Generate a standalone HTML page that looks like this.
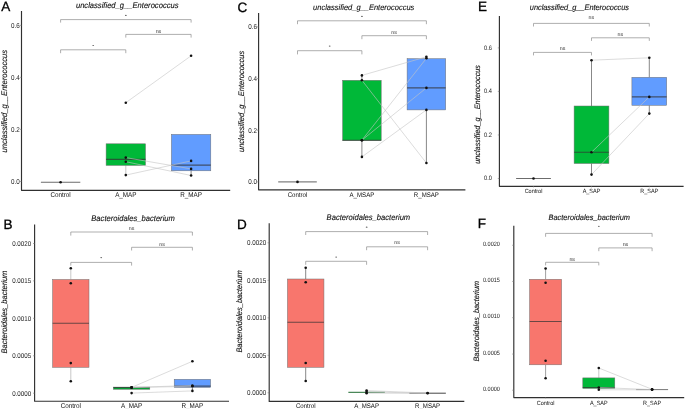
<!DOCTYPE html>
<html><head><meta charset="utf-8"><style>
html,body{margin:0;padding:0;background:#fff;}
svg{display:block;font-family:"Liberation Sans", sans-serif;will-change:transform;} text{text-rendering:geometricPrecision;}
</style></head><body>
<svg width="685" height="409" viewBox="0 0 685 409">
<rect width="685" height="409" fill="#fff"/>
<path d="M21.5 11V190.3H230.2" fill="none" stroke="#303030" stroke-width="1.15" stroke-linejoin="round"/>
<line x1="19.9" y1="181.5" x2="21.5" y2="181.5" stroke="#777" stroke-width="0.6"/>
<text transform="translate(19.8 184.05) scale(0.8929 1)" font-size="7.056" text-anchor="end" fill="#222">0.0</text>
<line x1="19.9" y1="129.4" x2="21.5" y2="129.4" stroke="#777" stroke-width="0.6"/>
<text transform="translate(19.8 131.95) scale(0.8929 1)" font-size="7.056" text-anchor="end" fill="#222">0.2</text>
<line x1="19.9" y1="77.35" x2="21.5" y2="77.35" stroke="#777" stroke-width="0.6"/>
<text transform="translate(19.8 79.9) scale(0.8929 1)" font-size="7.056" text-anchor="end" fill="#222">0.4</text>
<line x1="19.9" y1="25.35" x2="21.5" y2="25.35" stroke="#777" stroke-width="0.6"/>
<text transform="translate(19.8 27.9) scale(0.8929 1)" font-size="7.056" text-anchor="end" fill="#222">0.6</text>
<line x1="60.6" y1="190.3" x2="60.6" y2="191.7" stroke="#aaa" stroke-width="0.5"/>
<text transform="translate(60.6 196.8) scale(0.9091 1)" font-size="6.93" text-anchor="middle" fill="#111">Control</text>
<line x1="125.8" y1="190.3" x2="125.8" y2="191.7" stroke="#aaa" stroke-width="0.5"/>
<text transform="translate(125.8 196.8) scale(0.9091 1)" font-size="6.93" text-anchor="middle" fill="#111">A_MAP</text>
<line x1="191.1" y1="190.3" x2="191.1" y2="191.7" stroke="#aaa" stroke-width="0.5"/>
<text transform="translate(191.1 196.8) scale(0.9091 1)" font-size="6.93" text-anchor="middle" fill="#111">R_MAP</text>
<line x1="40.9" y1="182.2" x2="80.3" y2="182.2" stroke="#333" stroke-opacity="0.72" stroke-width="1.15"/>
<line x1="125.8" y1="165.4" x2="125.8" y2="175.1" stroke="#b0b0b0" stroke-width="0.7"/>
<rect x="106.1" y="143.8" width="39.4" height="21.6" fill="#00B838" stroke="#6f6f6f" stroke-width="0.5"/>
<line x1="106.1" y1="159.4" x2="145.5" y2="159.4" stroke="#333" stroke-opacity="0.72" stroke-width="1.15"/>
<line x1="191.1" y1="170.8" x2="191.1" y2="175.5" stroke="#555" stroke-width="0.7"/>
<rect x="171.4" y="134.4" width="39.4" height="36.4" fill="#619CFF" stroke="#6f6f6f" stroke-width="0.5"/>
<line x1="171.4" y1="165.1" x2="210.8" y2="165.1" stroke="#333" stroke-opacity="0.72" stroke-width="1.15"/>
<line x1="125.8" y1="102.7" x2="191.1" y2="55.8" stroke="#c4c4c4" stroke-width="0.6"/>
<line x1="125.8" y1="157.6" x2="191.1" y2="168.9" stroke="#c4c4c4" stroke-width="0.6"/>
<line x1="125.8" y1="161.7" x2="191.1" y2="175.5" stroke="#c4c4c4" stroke-width="0.6"/>
<line x1="125.8" y1="175.1" x2="191.1" y2="160.9" stroke="#c4c4c4" stroke-width="0.6"/>
<circle cx="60.6" cy="182.2" r="1.3" fill="#111"/>
<circle cx="125.8" cy="102.7" r="1.3" fill="#111"/>
<circle cx="125.8" cy="157.6" r="1.3" fill="#111"/>
<circle cx="125.8" cy="161.7" r="1.3" fill="#111"/>
<circle cx="125.8" cy="175.1" r="1.3" fill="#111"/>
<circle cx="191.1" cy="55.8" r="1.3" fill="#111"/>
<circle cx="191.1" cy="160.9" r="1.3" fill="#111"/>
<circle cx="191.1" cy="168.9" r="1.3" fill="#111"/>
<circle cx="191.1" cy="175.5" r="1.3" fill="#111"/>
<path d="M60.6 22.6V19.6H191.1V22.6" fill="none" stroke="#8c8c8c" stroke-width="0.7"/>
<ellipse cx="125.85" cy="15.4" rx="0.9" ry="0.6" fill="#666"/>
<path d="M125.8 37.6V34.4H191.1V37.6" fill="none" stroke="#8c8c8c" stroke-width="0.7"/>
<text x="158.45" y="32.8" font-size="5.3" text-anchor="middle" fill="#333">ns</text>
<path d="M60.6 53.2V49.8H125.8V53.2" fill="none" stroke="#8c8c8c" stroke-width="0.7"/>
<ellipse cx="93.2" cy="45.5" rx="0.9" ry="0.6" fill="#666"/>
<text transform="translate(127.2 7.9) scale(0.9346 1)" font-size="8.132" font-style="italic" text-anchor="middle" fill="#111" stroke="#111" stroke-width="0.12">unclassified_g__Enterococcus</text>
<text transform="translate(7 101.2) rotate(-90) scale(0.9346 1)" font-size="8.132" font-style="italic" text-anchor="middle" fill="#111" stroke="#111" stroke-width="0.12">unclassified_g__Enterococcus</text>
<text x="1.2" y="10.9" font-size="13.5" fill="#000" stroke="#000" stroke-width="0.3">A</text>
<path d="M258.6 13V189.8H465.4" fill="none" stroke="#303030" stroke-width="1.15" stroke-linejoin="round"/>
<line x1="257" y1="181.9" x2="258.6" y2="181.9" stroke="#777" stroke-width="0.6"/>
<text transform="translate(257 184.45) scale(0.8929 1)" font-size="7.056" text-anchor="end" fill="#222">0.0</text>
<line x1="257" y1="130.2" x2="258.6" y2="130.2" stroke="#777" stroke-width="0.6"/>
<text transform="translate(257 132.75) scale(0.8929 1)" font-size="7.056" text-anchor="end" fill="#222">0.2</text>
<line x1="257" y1="78.6" x2="258.6" y2="78.6" stroke="#777" stroke-width="0.6"/>
<text transform="translate(257 81.15) scale(0.8929 1)" font-size="7.056" text-anchor="end" fill="#222">0.4</text>
<line x1="257" y1="26.9" x2="258.6" y2="26.9" stroke="#777" stroke-width="0.6"/>
<text transform="translate(257 29.45) scale(0.8929 1)" font-size="7.056" text-anchor="end" fill="#222">0.6</text>
<line x1="297.5" y1="189.8" x2="297.5" y2="191.2" stroke="#aaa" stroke-width="0.5"/>
<text transform="translate(297.5 196.6) scale(0.9091 1)" font-size="6.71" text-anchor="middle" fill="#111">Control</text>
<line x1="361.9" y1="189.8" x2="361.9" y2="191.2" stroke="#aaa" stroke-width="0.5"/>
<text transform="translate(361.9 196.6) scale(0.9091 1)" font-size="6.71" text-anchor="middle" fill="#111">A_MSAP</text>
<line x1="426.4" y1="189.8" x2="426.4" y2="191.2" stroke="#aaa" stroke-width="0.5"/>
<text transform="translate(426.4 196.6) scale(0.9091 1)" font-size="6.71" text-anchor="middle" fill="#111">R_MSAP</text>
<line x1="278.2" y1="181.9" x2="316.8" y2="181.9" stroke="#808080" stroke-opacity="1" stroke-width="1.4"/>
<line x1="361.9" y1="140.5" x2="361.9" y2="156.9" stroke="#555555" stroke-width="0.7"/>
<line x1="361.9" y1="80.3" x2="361.9" y2="75.4" stroke="#555555" stroke-width="0.7"/>
<rect x="342.6" y="80.3" width="38.6" height="60.2" fill="#00B838" stroke="#6f6f6f" stroke-width="0.5"/>
<line x1="342.6" y1="140.2" x2="381.2" y2="140.2" stroke="#333" stroke-opacity="0.72" stroke-width="1.15"/>
<line x1="426.4" y1="109.9" x2="426.4" y2="163" stroke="#555555" stroke-width="0.7"/>
<line x1="426.4" y1="58.7" x2="426.4" y2="56.8" stroke="#555555" stroke-width="0.7"/>
<rect x="407.1" y="58.7" width="38.6" height="51.2" fill="#619CFF" stroke="#6f6f6f" stroke-width="0.5"/>
<line x1="407.1" y1="87.9" x2="445.7" y2="87.9" stroke="#333" stroke-opacity="0.72" stroke-width="1.15"/>
<line x1="361.9" y1="75.4" x2="426.4" y2="56.8" stroke="#c4c4c4" stroke-width="0.6"/>
<line x1="361.9" y1="80.3" x2="426.4" y2="163" stroke="#c4c4c4" stroke-width="0.6"/>
<line x1="361.9" y1="140.2" x2="426.4" y2="58.3" stroke="#c4c4c4" stroke-width="0.6"/>
<line x1="361.9" y1="140.2" x2="426.4" y2="87.9" stroke="#c4c4c4" stroke-width="0.6"/>
<line x1="361.9" y1="156.9" x2="426.4" y2="109.9" stroke="#c4c4c4" stroke-width="0.6"/>
<circle cx="297.5" cy="181.9" r="1.3" fill="#111"/>
<circle cx="361.9" cy="75.4" r="1.3" fill="#111"/>
<circle cx="361.9" cy="80.3" r="1.3" fill="#111"/>
<circle cx="361.9" cy="140.2" r="1.3" fill="#111"/>
<circle cx="361.9" cy="140.2" r="1.3" fill="#111"/>
<circle cx="361.9" cy="156.9" r="1.3" fill="#111"/>
<circle cx="426.4" cy="56.8" r="1.3" fill="#111"/>
<circle cx="426.4" cy="58.3" r="1.3" fill="#111"/>
<circle cx="426.4" cy="87.9" r="1.3" fill="#111"/>
<circle cx="426.4" cy="109.9" r="1.3" fill="#111"/>
<circle cx="426.4" cy="163" r="1.3" fill="#111"/>
<path d="M297.5 24.2V20.8H426.4V24.2" fill="none" stroke="#8c8c8c" stroke-width="0.7"/>
<ellipse cx="361.95" cy="16.4" rx="0.9" ry="0.6" fill="#666"/>
<path d="M361.9 39.2V35.7H426.4V39.2" fill="none" stroke="#8c8c8c" stroke-width="0.7"/>
<text x="394.15" y="34" font-size="5.3" text-anchor="middle" fill="#333">ns</text>
<path d="M297.5 54.4V50.7H361.9V54.4" fill="none" stroke="#8c8c8c" stroke-width="0.7"/>
<ellipse cx="329.7" cy="46.1" rx="0.9" ry="0.6" fill="#666"/>
<text transform="translate(363.7 9.7) scale(0.9346 1)" font-size="8.025" font-style="italic" text-anchor="middle" fill="#111" stroke="#111" stroke-width="0.12">unclassified_g__Enterococcus</text>
<text transform="translate(244.4 101.4) rotate(-90) scale(0.9346 1)" font-size="8.025" font-style="italic" text-anchor="middle" fill="#111" stroke="#111" stroke-width="0.12">unclassified_g__Enterococcus</text>
<text x="237.6" y="11.6" font-size="13.5" fill="#000" stroke="#000" stroke-width="0.3">C</text>
<path d="M499.4 15.9V186.3H683.6" fill="none" stroke="#303030" stroke-width="1.15" stroke-linejoin="round"/>
<line x1="497.8" y1="178.5" x2="499.4" y2="178.5" stroke="#777" stroke-width="0.6"/>
<text transform="translate(491.9 180.15) scale(0.8929 1)" font-size="6.384" text-anchor="end" fill="#222">0.0</text>
<line x1="497.8" y1="134.97" x2="499.4" y2="134.97" stroke="#777" stroke-width="0.6"/>
<text transform="translate(491.9 136.62) scale(0.8929 1)" font-size="6.384" text-anchor="end" fill="#222">0.2</text>
<line x1="497.8" y1="91.43" x2="499.4" y2="91.43" stroke="#777" stroke-width="0.6"/>
<text transform="translate(491.9 93.08) scale(0.8929 1)" font-size="6.384" text-anchor="end" fill="#222">0.4</text>
<line x1="497.8" y1="47.9" x2="499.4" y2="47.9" stroke="#777" stroke-width="0.6"/>
<text transform="translate(491.9 49.55) scale(0.8929 1)" font-size="6.384" text-anchor="end" fill="#222">0.6</text>
<line x1="533.5" y1="186.3" x2="533.5" y2="187.7" stroke="#aaa" stroke-width="0.5"/>
<text transform="translate(533.5 193) scale(0.9091 1)" font-size="6.05" text-anchor="middle" fill="#111">Control</text>
<line x1="591.5" y1="186.3" x2="591.5" y2="187.7" stroke="#aaa" stroke-width="0.5"/>
<text transform="translate(591.5 193) scale(0.9091 1)" font-size="6.05" text-anchor="middle" fill="#111">A_SAP</text>
<line x1="649.3" y1="186.3" x2="649.3" y2="187.7" stroke="#aaa" stroke-width="0.5"/>
<text transform="translate(649.3 193) scale(0.9091 1)" font-size="6.05" text-anchor="middle" fill="#111">R_SAP</text>
<line x1="516.1" y1="178.5" x2="550.9" y2="178.5" stroke="#333" stroke-opacity="0.72" stroke-width="1.15"/>
<line x1="591.5" y1="163.5" x2="591.5" y2="174.6" stroke="#555555" stroke-width="0.7"/>
<line x1="591.5" y1="106" x2="591.5" y2="60.2" stroke="#555555" stroke-width="0.7"/>
<rect x="574.1" y="106" width="34.8" height="57.5" fill="#00B838" stroke="#6f6f6f" stroke-width="0.5"/>
<line x1="574.1" y1="152.2" x2="608.9" y2="152.2" stroke="#333" stroke-opacity="0.72" stroke-width="1.15"/>
<line x1="649.3" y1="105.3" x2="649.3" y2="113.6" stroke="#555555" stroke-width="0.7"/>
<line x1="649.3" y1="77.3" x2="649.3" y2="57.8" stroke="#555555" stroke-width="0.7"/>
<rect x="631.9" y="77.3" width="34.8" height="28" fill="#619CFF" stroke="#6f6f6f" stroke-width="0.5"/>
<line x1="631.9" y1="96.9" x2="666.7" y2="96.9" stroke="#333" stroke-opacity="0.72" stroke-width="1.15"/>
<line x1="591.5" y1="60.2" x2="649.3" y2="57.8" stroke="#c4c4c4" stroke-width="0.6"/>
<line x1="591.5" y1="152.2" x2="649.3" y2="96.9" stroke="#c4c4c4" stroke-width="0.6"/>
<line x1="591.5" y1="174.6" x2="649.3" y2="113.6" stroke="#c4c4c4" stroke-width="0.6"/>
<circle cx="533.5" cy="178.5" r="1.3" fill="#111"/>
<circle cx="591.5" cy="60.2" r="1.3" fill="#111"/>
<circle cx="591.5" cy="152.2" r="1.3" fill="#111"/>
<circle cx="591.5" cy="174.6" r="1.3" fill="#111"/>
<circle cx="649.3" cy="57.8" r="1.3" fill="#111"/>
<circle cx="649.3" cy="96.9" r="1.3" fill="#111"/>
<circle cx="649.3" cy="113.6" r="1.3" fill="#111"/>
<path d="M533.5 26.5V23.4H649.3V26.5" fill="none" stroke="#8c8c8c" stroke-width="0.7"/>
<text x="591.4" y="19.1" font-size="5.3" text-anchor="middle" fill="#333">ns</text>
<path d="M591.5 40.9V37.8H649.3V40.9" fill="none" stroke="#8c8c8c" stroke-width="0.7"/>
<text x="620.4" y="35.7" font-size="5.3" text-anchor="middle" fill="#333">ns</text>
<path d="M533.5 55.4V52.4H591.5V55.4" fill="none" stroke="#8c8c8c" stroke-width="0.7"/>
<text x="562.5" y="50.3" font-size="5.3" text-anchor="middle" fill="#333">ns</text>
<text transform="translate(579.4 10.1) scale(0.9346 1)" font-size="7.8645" font-style="italic" text-anchor="middle" fill="#111" stroke="#111" stroke-width="0.12">unclassified_g__Enterococcus</text>
<text transform="translate(480.3 114.4) rotate(-90) scale(0.9346 1)" font-size="7.8324" font-style="italic" text-anchor="middle" fill="#111" stroke="#111" stroke-width="0.12">unclassified_g__Enterococcus</text>
<text x="478" y="11.2" font-size="13.5" fill="#000" stroke="#000" stroke-width="0.3">E</text>
<path d="M34.6 224.5V401.2H229" fill="none" stroke="#303030" stroke-width="1.15" stroke-linejoin="round"/>
<line x1="33" y1="393.2" x2="34.6" y2="393.2" stroke="#777" stroke-width="0.6"/>
<text transform="translate(31.1 395.75) scale(0.8929 1)" font-size="6.944" text-anchor="end" fill="#222">0.0000</text>
<line x1="33" y1="355.8" x2="34.6" y2="355.8" stroke="#777" stroke-width="0.6"/>
<text transform="translate(31.1 358.35) scale(0.8929 1)" font-size="6.944" text-anchor="end" fill="#222">0.0005</text>
<line x1="33" y1="318.3" x2="34.6" y2="318.3" stroke="#777" stroke-width="0.6"/>
<text transform="translate(31.1 320.85) scale(0.8929 1)" font-size="6.944" text-anchor="end" fill="#222">0.0010</text>
<line x1="33" y1="280.9" x2="34.6" y2="280.9" stroke="#777" stroke-width="0.6"/>
<text transform="translate(31.1 283.45) scale(0.8929 1)" font-size="6.944" text-anchor="end" fill="#222">0.0015</text>
<line x1="33" y1="243.5" x2="34.6" y2="243.5" stroke="#777" stroke-width="0.6"/>
<text transform="translate(31.1 246.05) scale(0.8929 1)" font-size="6.944" text-anchor="end" fill="#222">0.0020</text>
<line x1="70.8" y1="401.2" x2="70.8" y2="402.6" stroke="#aaa" stroke-width="0.5"/>
<text transform="translate(70.8 408) scale(0.9091 1)" font-size="6.93" text-anchor="middle" fill="#111">Control</text>
<line x1="131.6" y1="401.2" x2="131.6" y2="402.6" stroke="#aaa" stroke-width="0.5"/>
<text transform="translate(131.6 408) scale(0.9091 1)" font-size="6.93" text-anchor="middle" fill="#111">A_MAP</text>
<line x1="192.4" y1="401.2" x2="192.4" y2="402.6" stroke="#aaa" stroke-width="0.5"/>
<text transform="translate(192.4 408) scale(0.9091 1)" font-size="6.93" text-anchor="middle" fill="#111">R_MAP</text>
<line x1="70.8" y1="367.3" x2="70.8" y2="381.2" stroke="#b0b0b0" stroke-width="0.7"/>
<line x1="70.8" y1="279.5" x2="70.8" y2="268.3" stroke="#b0b0b0" stroke-width="0.7"/>
<rect x="52.6" y="279.5" width="36.4" height="87.8" fill="#F8766D" stroke="#6f6f6f" stroke-width="0.5"/>
<line x1="52.6" y1="323.2" x2="89" y2="323.2" stroke="#333" stroke-opacity="0.72" stroke-width="1.15"/>
<rect x="113.4" y="387.1" width="36.4" height="2.2" fill="#00B838" stroke="#6f6f6f" stroke-width="0.5"/>
<line x1="113.4" y1="387.6" x2="149.8" y2="387.6" stroke="#333" stroke-opacity="0.72" stroke-width="1.15"/>
<line x1="192.4" y1="387.4" x2="192.4" y2="390.9" stroke="#555" stroke-width="0.7"/>
<rect x="174.2" y="379.3" width="36.4" height="8.1" fill="#619CFF" stroke="#6f6f6f" stroke-width="0.5"/>
<line x1="174.2" y1="386.1" x2="210.6" y2="386.1" stroke="#333" stroke-opacity="0.72" stroke-width="1.15"/>
<line x1="131.6" y1="387.4" x2="192.4" y2="361.3" stroke="#c4c4c4" stroke-width="0.6"/>
<line x1="131.6" y1="387.4" x2="192.4" y2="385.5" stroke="#c4c4c4" stroke-width="0.6"/>
<line x1="131.6" y1="387.6" x2="192.4" y2="386.3" stroke="#c4c4c4" stroke-width="0.6"/>
<line x1="131.6" y1="393.1" x2="192.4" y2="390.9" stroke="#c4c4c4" stroke-width="0.6"/>
<circle cx="70.8" cy="268.3" r="1.3" fill="#111"/>
<circle cx="70.8" cy="283.2" r="1.3" fill="#111"/>
<circle cx="70.8" cy="363.1" r="1.3" fill="#111"/>
<circle cx="70.8" cy="381.2" r="1.3" fill="#111"/>
<circle cx="131.6" cy="387.4" r="1.3" fill="#111"/>
<circle cx="131.6" cy="387.4" r="1.3" fill="#111"/>
<circle cx="131.6" cy="387.6" r="1.3" fill="#111"/>
<circle cx="131.6" cy="393.1" r="1.3" fill="#111"/>
<circle cx="192.4" cy="361.3" r="1.3" fill="#111"/>
<circle cx="192.4" cy="385.5" r="1.3" fill="#111"/>
<circle cx="192.4" cy="386.3" r="1.3" fill="#111"/>
<circle cx="192.4" cy="390.9" r="1.3" fill="#111"/>
<path d="M70.8 235.6V232H192.4V235.6" fill="none" stroke="#8c8c8c" stroke-width="0.7"/>
<text x="131.6" y="230.4" font-size="5.3" text-anchor="middle" fill="#333">ns</text>
<path d="M131.6 250.5V247.3H192.4V250.5" fill="none" stroke="#8c8c8c" stroke-width="0.7"/>
<text x="162" y="245.7" font-size="5.3" text-anchor="middle" fill="#333">ns</text>
<path d="M70.8 265.6V262.4H131.6V265.6" fill="none" stroke="#8c8c8c" stroke-width="0.7"/>
<ellipse cx="101.2" cy="257.6" rx="0.9" ry="0.6" fill="#666"/>
<text transform="translate(133.1 220.8) scale(0.9346 1)" font-size="8.132" font-style="italic" text-anchor="middle" fill="#111" stroke="#111" stroke-width="0.12">Bacteroidales_bacterium</text>
<text transform="translate(7.3 312.1) rotate(-90) scale(0.9346 1)" font-size="8.0785" font-style="italic" text-anchor="middle" fill="#111" stroke="#111" stroke-width="0.12">Bacteroidales_bacterium</text>
<text x="3.5" y="228.7" font-size="13.5" fill="#000" stroke="#000" stroke-width="0.3">B</text>
<path d="M269.2 223.3V401.4H464.3" fill="none" stroke="#303030" stroke-width="1.15" stroke-linejoin="round"/>
<line x1="267.6" y1="392.8" x2="269.2" y2="392.8" stroke="#777" stroke-width="0.6"/>
<text transform="translate(266.2 395.35) scale(0.8929 1)" font-size="7" text-anchor="end" fill="#222">0.0000</text>
<line x1="267.6" y1="355.35" x2="269.2" y2="355.35" stroke="#777" stroke-width="0.6"/>
<text transform="translate(266.2 357.9) scale(0.8929 1)" font-size="7" text-anchor="end" fill="#222">0.0005</text>
<line x1="267.6" y1="317.85" x2="269.2" y2="317.85" stroke="#777" stroke-width="0.6"/>
<text transform="translate(266.2 320.4) scale(0.8929 1)" font-size="7" text-anchor="end" fill="#222">0.0010</text>
<line x1="267.6" y1="280.3" x2="269.2" y2="280.3" stroke="#777" stroke-width="0.6"/>
<text transform="translate(266.2 282.85) scale(0.8929 1)" font-size="7" text-anchor="end" fill="#222">0.0015</text>
<line x1="267.6" y1="242.8" x2="269.2" y2="242.8" stroke="#777" stroke-width="0.6"/>
<text transform="translate(266.2 245.35) scale(0.8929 1)" font-size="7" text-anchor="end" fill="#222">0.0020</text>
<line x1="305.7" y1="401.4" x2="305.7" y2="402.8" stroke="#aaa" stroke-width="0.5"/>
<text transform="translate(305.7 408) scale(0.9091 1)" font-size="6.71" text-anchor="middle" fill="#111">Control</text>
<line x1="366.6" y1="401.4" x2="366.6" y2="402.8" stroke="#aaa" stroke-width="0.5"/>
<text transform="translate(366.6 408) scale(0.9091 1)" font-size="6.71" text-anchor="middle" fill="#111">A_MSAP</text>
<line x1="427.6" y1="401.4" x2="427.6" y2="402.8" stroke="#aaa" stroke-width="0.5"/>
<text transform="translate(427.6 408) scale(0.9091 1)" font-size="6.71" text-anchor="middle" fill="#111">R_MSAP</text>
<line x1="305.7" y1="367.3" x2="305.7" y2="381" stroke="#555555" stroke-width="0.7"/>
<line x1="305.7" y1="279" x2="305.7" y2="267.8" stroke="#555555" stroke-width="0.7"/>
<rect x="287.45" y="279" width="36.5" height="88.3" fill="#F8766D" stroke="#6f6f6f" stroke-width="0.5"/>
<line x1="287.45" y1="322.2" x2="323.95" y2="322.2" stroke="#333" stroke-opacity="0.72" stroke-width="1.15"/>
<line x1="348.35" y1="392.3" x2="384.85" y2="392.3" stroke="#1f6b30" stroke-opacity="1" stroke-width="1.0"/>
<line x1="409.35" y1="393.2" x2="445.85" y2="393.2" stroke="#444" stroke-opacity="1" stroke-width="1.0"/>
<line x1="366.6" y1="390.6" x2="427.6" y2="393" stroke="#c4c4c4" stroke-width="0.6"/>
<line x1="366.6" y1="391.9" x2="427.6" y2="393.2" stroke="#c4c4c4" stroke-width="0.6"/>
<line x1="366.6" y1="393.2" x2="427.6" y2="393.2" stroke="#c4c4c4" stroke-width="0.6"/>
<circle cx="305.7" cy="267.8" r="1.3" fill="#111"/>
<circle cx="305.7" cy="282.2" r="1.3" fill="#111"/>
<circle cx="305.7" cy="363" r="1.3" fill="#111"/>
<circle cx="305.7" cy="381" r="1.3" fill="#111"/>
<circle cx="366.6" cy="390.6" r="1.3" fill="#111"/>
<circle cx="366.6" cy="391.9" r="1.3" fill="#111"/>
<circle cx="366.6" cy="393.2" r="1.3" fill="#111"/>
<circle cx="427.6" cy="393" r="1.3" fill="#111"/>
<circle cx="427.6" cy="393.2" r="1.3" fill="#111"/>
<path d="M305.7 235V231.6H427.6V235" fill="none" stroke="#8c8c8c" stroke-width="0.7"/>
<ellipse cx="366.65" cy="227.2" rx="0.9" ry="0.6" fill="#666"/>
<path d="M366.6 250.2V246.8H427.6V250.2" fill="none" stroke="#8c8c8c" stroke-width="0.7"/>
<text x="397.1" y="244.4" font-size="5.3" text-anchor="middle" fill="#333">ns</text>
<path d="M305.7 264.8V261.3H366.6V264.8" fill="none" stroke="#8c8c8c" stroke-width="0.7"/>
<ellipse cx="336.15" cy="257.1" rx="0.9" ry="0.6" fill="#666"/>
<text transform="translate(368.4 219.7) scale(0.9346 1)" font-size="8.132" font-style="italic" text-anchor="middle" fill="#111" stroke="#111" stroke-width="0.12">Bacteroidales_bacterium</text>
<text transform="translate(241.7 311.4) rotate(-90) scale(0.9346 1)" font-size="8.025" font-style="italic" text-anchor="middle" fill="#111" stroke="#111" stroke-width="0.12">Bacteroidales_bacterium</text>
<text x="237" y="228.8" font-size="13.5" fill="#000" stroke="#000" stroke-width="0.3">D</text>
<path d="M513.8 225.8V397.6H684.2" fill="none" stroke="#303030" stroke-width="1.15" stroke-linejoin="round"/>
<line x1="512.2" y1="390.2" x2="513.8" y2="390.2" stroke="#777" stroke-width="0.6"/>
<text transform="translate(499.9 390.85) scale(0.8929 1)" font-size="6.2272" text-anchor="end" fill="#222">0.0000</text>
<line x1="512.2" y1="354.05" x2="513.8" y2="354.05" stroke="#777" stroke-width="0.6"/>
<text transform="translate(499.9 354.7) scale(0.8929 1)" font-size="6.2272" text-anchor="end" fill="#222">0.0005</text>
<line x1="512.2" y1="317.7" x2="513.8" y2="317.7" stroke="#777" stroke-width="0.6"/>
<text transform="translate(499.9 318.35) scale(0.8929 1)" font-size="6.2272" text-anchor="end" fill="#222">0.0010</text>
<line x1="512.2" y1="281.45" x2="513.8" y2="281.45" stroke="#777" stroke-width="0.6"/>
<text transform="translate(499.9 282.1) scale(0.8929 1)" font-size="6.2272" text-anchor="end" fill="#222">0.0015</text>
<line x1="512.2" y1="245.25" x2="513.8" y2="245.25" stroke="#777" stroke-width="0.6"/>
<text transform="translate(499.9 245.9) scale(0.8929 1)" font-size="6.2272" text-anchor="end" fill="#222">0.0020</text>
<line x1="545.6" y1="397.6" x2="545.6" y2="399" stroke="#aaa" stroke-width="0.5"/>
<text transform="translate(545.6 404.8) scale(0.9091 1)" font-size="6.05" text-anchor="middle" fill="#111">Control</text>
<line x1="598.8" y1="397.6" x2="598.8" y2="399" stroke="#aaa" stroke-width="0.5"/>
<text transform="translate(598.8 404.8) scale(0.9091 1)" font-size="6.05" text-anchor="middle" fill="#111">A_SAP</text>
<line x1="652.1" y1="397.6" x2="652.1" y2="399" stroke="#aaa" stroke-width="0.5"/>
<text transform="translate(652.1 404.8) scale(0.9091 1)" font-size="6.05" text-anchor="middle" fill="#111">R_SAP</text>
<line x1="545.6" y1="364.8" x2="545.6" y2="378.2" stroke="#777" stroke-width="0.7"/>
<line x1="545.6" y1="279.3" x2="545.6" y2="268.5" stroke="#777" stroke-width="0.7"/>
<rect x="529.6" y="279.3" width="32" height="85.5" fill="#F8766D" stroke="#6f6f6f" stroke-width="0.5"/>
<line x1="529.6" y1="321.5" x2="561.6" y2="321.5" stroke="#333" stroke-opacity="0.72" stroke-width="1.15"/>
<line x1="598.8" y1="388.4" x2="598.8" y2="389.8" stroke="#b0b0b0" stroke-width="0.7"/>
<line x1="598.8" y1="377.9" x2="598.8" y2="368" stroke="#b0b0b0" stroke-width="0.7"/>
<rect x="582.8" y="377.9" width="32" height="10.5" fill="#00B838" stroke="#6f6f6f" stroke-width="0.5"/>
<line x1="582.8" y1="387.5" x2="614.8" y2="387.5" stroke="#333" stroke-opacity="0.72" stroke-width="1.15"/>
<line x1="636.1" y1="389.6" x2="668.1" y2="389.6" stroke="#777" stroke-opacity="1" stroke-width="1.0"/>
<line x1="598.8" y1="368" x2="652.1" y2="389.3" stroke="#c4c4c4" stroke-width="0.6"/>
<line x1="598.8" y1="387.5" x2="652.1" y2="389.6" stroke="#c4c4c4" stroke-width="0.6"/>
<line x1="598.8" y1="389.8" x2="652.1" y2="389.8" stroke="#c4c4c4" stroke-width="0.6"/>
<circle cx="545.6" cy="268.5" r="1.3" fill="#111"/>
<circle cx="545.6" cy="282.7" r="1.3" fill="#111"/>
<circle cx="545.6" cy="360.7" r="1.3" fill="#111"/>
<circle cx="545.6" cy="378.2" r="1.3" fill="#111"/>
<circle cx="598.8" cy="368" r="1.3" fill="#111"/>
<circle cx="598.8" cy="387.5" r="1.3" fill="#111"/>
<circle cx="598.8" cy="389.8" r="1.3" fill="#111"/>
<circle cx="652.1" cy="389.3" r="1.3" fill="#111"/>
<circle cx="652.1" cy="389.6" r="1.3" fill="#111"/>
<circle cx="652.1" cy="389.8" r="1.3" fill="#111"/>
<path d="M545.6 236.8V233.4H652.1V236.8" fill="none" stroke="#8c8c8c" stroke-width="0.7"/>
<ellipse cx="598.85" cy="226.35" rx="0.9" ry="0.6" fill="#666"/>
<path d="M598.8 251.2V247.9H652.1V251.2" fill="none" stroke="#8c8c8c" stroke-width="0.7"/>
<text x="625.45" y="245.6" font-size="5.3" text-anchor="middle" fill="#333">ns</text>
<path d="M545.6 265.4V262.3H598.8V265.4" fill="none" stroke="#8c8c8c" stroke-width="0.7"/>
<text x="572.2" y="260.5" font-size="5.3" text-anchor="middle" fill="#333">ns</text>
<text transform="translate(589.3 219.9) scale(0.9346 1)" font-size="7.9394" font-style="italic" text-anchor="middle" fill="#111" stroke="#111" stroke-width="0.12">Bacteroidales_bacterium</text>
<text transform="translate(479.2 321.2) rotate(-90) scale(0.9346 1)" font-size="7.8538" font-style="italic" text-anchor="middle" fill="#111" stroke="#111" stroke-width="0.12">Bacteroidales_bacterium</text>
<text x="477.8" y="228" font-size="13.5" fill="#000" stroke="#000" stroke-width="0.3">F</text>
</svg>
</body></html>
